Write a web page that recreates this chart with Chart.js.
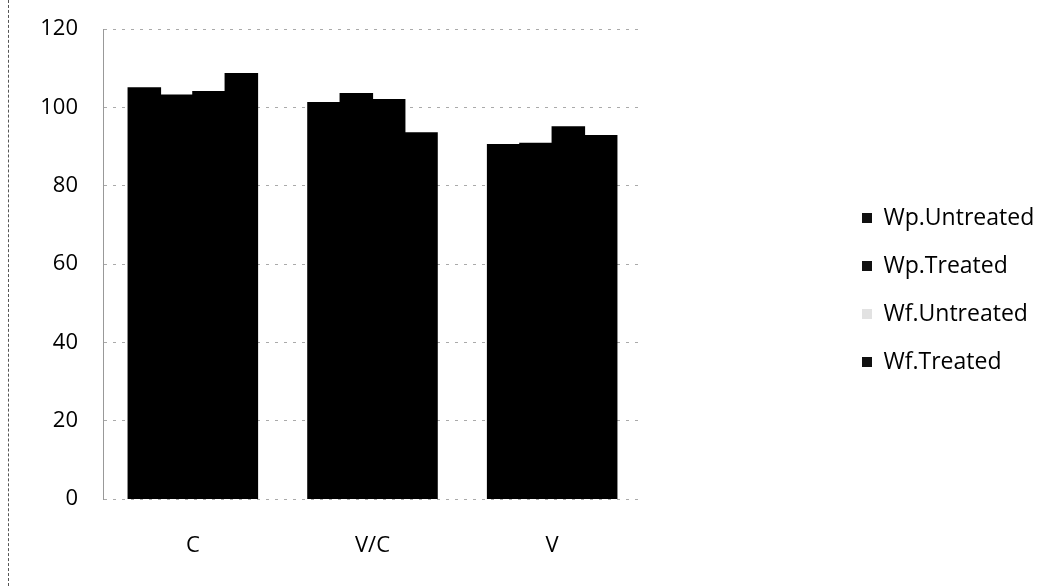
<!DOCTYPE html>
<html>
<head>
<meta charset="utf-8">
<script src="https://cdn.jsdelivr.net/npm/chart.js@4/dist/chart.umd.min.js"></script>
<style>
  html, body { margin: 0; padding: 0; background: #fff; }
  #wrap { position: relative; width: 1048px; height: 586px; }
  #edge { position: absolute; left: 8px; top: 0; height: 586px; border-left: 1px dashed #555; }
  canvas { display: block; }
</style>
</head>
<body>
<div id="wrap">
  <div id="edge"></div>
  <canvas id="c" width="1048" height="586"></canvas>
</div>
<script>
// Groups along the x axis
const categories = ['C', 'V/C', 'V'];

// Series values per group
const wpUntreated = [105, 101.2, 90.5];
const wpTreated   = [103.1, 103.5, 90.8];
const wfUntreated = [104, 102, 95];
const wfTreated   = [108.6, 93.5, 92.8];

const seriesNames = ['Wp.Untreated', 'Wp.Treated', 'Wf.Untreated', 'Wf.Treated'];
const seriesValues = [wpUntreated, wpTreated, wfUntreated, wfTreated];
const barColors = ['#000000', '#000000', '#000000', '#000000'];
const legendColors = ['#111111', '#111111', '#e2e2e2', '#111111'];

// Y axis ticks
const yTicks = [0, 20, 40, 60, 80, 100, 120];

const FONT = "'Open Sans', 'DejaVu Sans', sans-serif";

// Space reserved on the right for the legend, how far the legend items
// sit from the left edge of that space, and a vertical nudge for them.
const LEGEND_SPACE = 406;
const LEGEND_INSET = 195;
const LEGEND_SHIFT_Y = -12;

const legendSpacer = {
  id: 'legendSpacer',
  beforeInit(chart) {
    const legend = chart.legend;
    const fit = legend.fit;
    legend.fit = function () {
      fit.call(this);
      this.width = LEGEND_SPACE;
    };
    const draw = legend.draw;
    legend.draw = function () {
      this.left += LEGEND_INSET;
      this.top += LEGEND_SHIFT_Y;
      this.bottom += LEGEND_SHIFT_Y;
      draw.call(this);
      this.left -= LEGEND_INSET;
      this.top -= LEGEND_SHIFT_Y;
      this.bottom -= LEGEND_SHIFT_Y;
    };
  }
};

new Chart(document.getElementById('c'), {
  type: 'bar',
  data: {
    labels: categories,
    datasets: seriesNames.map((name, i) => ({
      label: name,
      data: seriesValues[i],
      backgroundColor: barColors[i],
      borderWidth: 0,
      inflateAmount: 0.6,
      barPercentage: 1.0,
      categoryPercentage: 0.72
    }))
  },
  plugins: [legendSpacer],
  options: {
    responsive: false,
    animation: false,
    layout: { padding: { left: 0, right: 0, top: 29, bottom: 11 } },
    plugins: {
      tooltip: { enabled: false },
      legend: {
        position: 'right',
        align: 'center',
        labels: {
          font: { family: FONT, size: 23 },
          color: '#000',
          boxWidth: 10,
          boxHeight: 10,
          padding: 25,
          generateLabels: (chart) => chart.data.datasets.map((ds, i) => ({
            text: ds.label,
            fillStyle: legendColors[i],
            strokeStyle: legendColors[i],
            lineWidth: 0,
            fontColor: '#000',
            datasetIndex: i,
            hidden: false
          }))
        }
      }
    },
    scales: {
      x: {
        grid: { display: false, drawTicks: false },
        border: { display: false },
        ticks: { font: { family: FONT, size: 22 }, color: '#000', padding: 34 },
        afterFit: (scale) => { scale.height = 76; }
      },
      y: {
        min: 0,
        max: 120,
        afterBuildTicks: (scale) => { scale.ticks = yTicks.map(v => ({ value: v })); },
        grid: { color: '#aaaaaa', lineWidth: 1, drawTicks: false },
        border: { display: true, color: '#999999', dash: [3, 6] },
        ticks: { font: { family: FONT, size: 22 }, color: '#000', padding: 25 },
        afterFit: (scale) => {
          scale.width = 103;
          scale.paddingTop = 0;
          scale.paddingBottom = 0;
        }
      }
    }
  }
});
</script>
</body>
</html>
